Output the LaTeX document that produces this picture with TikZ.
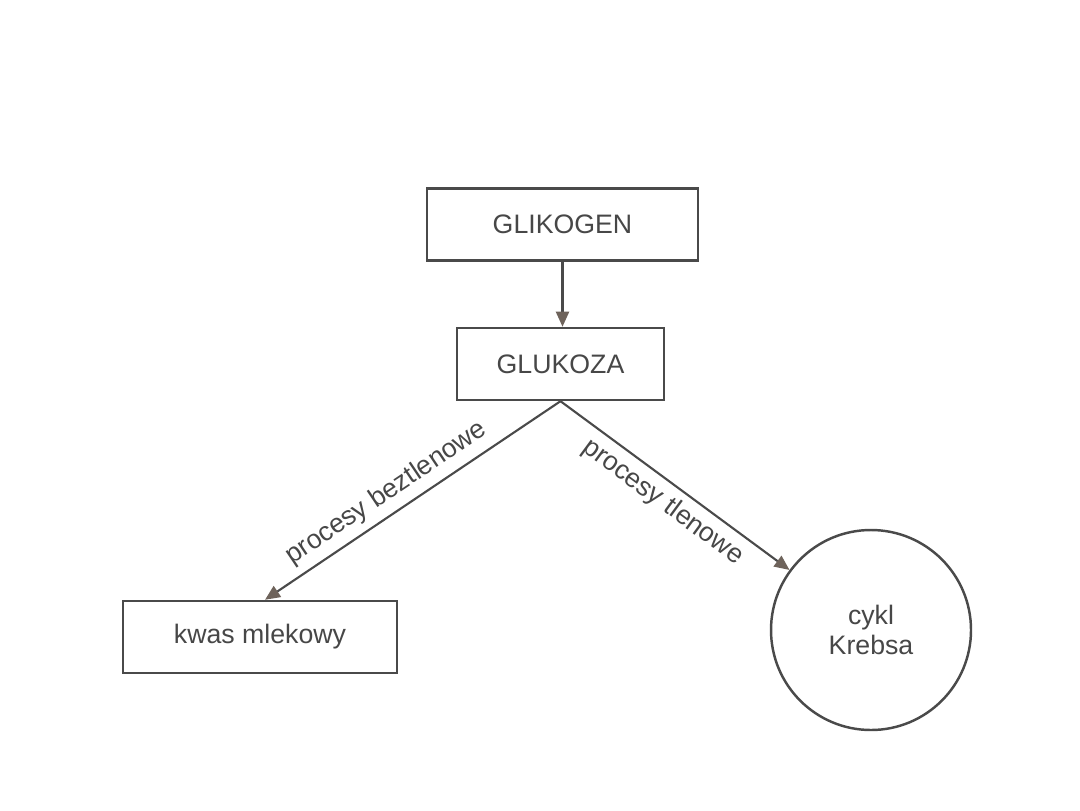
\documentclass[tikz,border=0pt]{standalone}
\usepackage{fontspec}
\setmainfont{Liberation Sans}
\usepackage{xcolor}
\definecolor{linegray}{HTML}{4A4A4A}
\definecolor{tipbrown}{HTML}{6E635B}
\definecolor{textgray}{HTML}{474747}
\usetikzlibrary{arrows.meta, positioning}

\begin{document}
\begin{tikzpicture}[
        node distance=0.65cm,
        box/.style={
            rectangle,
            draw=linegray,
            line width=0.7pt,
            minimum height=0.72cm,
            align=center,
            font=\fontsize{7.6}{8.6}\selectfont\color{textgray}
        },
        cyclebox/.style={
            circle,
            draw=linegray,
            line width=0.7pt,
            minimum size=2cm,
            align=center,
            font=\fontsize{7.6}{8.4}\selectfont\color{textgray}
        },
        arrow/.style={
            -{Triangle[length=1.5mm, width=1.3mm, color=tipbrown]},
            draw=linegray,
            line width=0.6pt
        },
        edgelabel/.style={
            sloped,
            inner sep=1pt,
            font=\fontsize{7.6}{8.6}\selectfont\color{textgray}
        }
    ]
    \useasboundingbox (0,0) rectangle (10.8,8.1);

    % Nodes
    \node[box, minimum width=2.71cm] (glikogen) at (5.625,5.855) {GLIKOGEN};
    \node[box, minimum width=2.07cm, below=of glikogen, xshift=-0.02cm] (glukoza) {GLUKOZA};
    \node[box, minimum width=2.74cm] (kwas) at (2.60,1.73) {kwas mlekowy};
    \node[cyclebox] (krebs) at (8.71,1.80) {cykl\\Krebsa};

    % Arrows
    \draw[arrow] (glikogen.south) -- (glikogen.south |- glukoza.north);
    \draw[arrow] (glukoza.south) -- ([xshift=0.05cm]kwas.north)
        node[edgelabel, above=1pt, pos=0.55] {procesy beztlenowe};
    \draw[arrow] (glukoza.south) -- (krebs)
        node[edgelabel, below=1pt, pos=0.5] {procesy tlenowe};

    \end{tikzpicture}
\end{document}
